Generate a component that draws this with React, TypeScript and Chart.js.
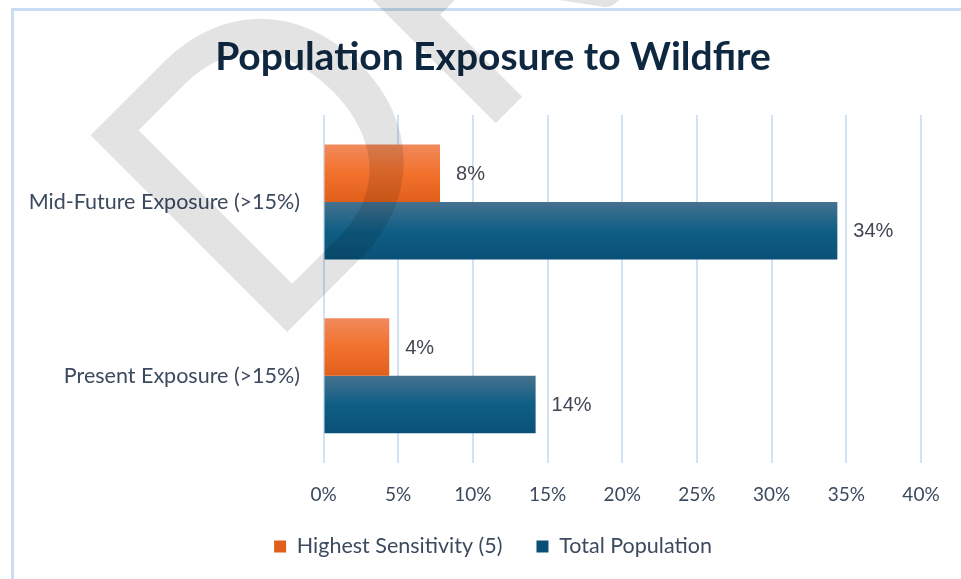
import React, { useEffect, useRef } from "react";
import { Chart, registerables } from "chart.js";

Chart.register(...registerables);

const titleText = "Population Exposure to Wildfire";
const watermarkText = "DRAFT";
const categories = ["Mid-Future Exposure (>15%)", "Present Exposure (>15%)"];
const seriesNames = ["Highest Sensitivity (5)", "Total Population"];
const highestSensitivity = [7.8, 4.4];
const totalPopulation = [34.4, 14.2];
const xTickValues = [0, 5, 10, 15, 20, 25, 30, 35, 40];

const CAT_PCT = 0.662;
const TEXT_COLOR = "#3b4a5e";
const ORANGE_STOPS = ["#f08a5c", "#f2712c", "#e05f1b"];
const BLUE_STOPS = ["#46728f", "#0f5e85", "#0a5076"];

function barGradient(stops: string[], solid: string, which: number) {
  return (ctx: any) => {
    if (ctx.type !== "data") return solid;
    const chart = ctx.chart;
    const area = chart.chartArea;
    const y = chart.scales && chart.scales.y;
    if (!area || !y) return solid;
    const center = y.getPixelForValue(ctx.dataIndex);
    const cat = (area.bottom - area.top) / categories.length;
    const h = (cat * CAT_PCT) / 2;
    const top = which === 0 ? center - h : center;
    const g = chart.ctx.createLinearGradient(0, top, 0, top + h);
    g.addColorStop(0, stops[0]);
    g.addColorStop(0.5, stops[1]);
    g.addColorStop(1, stops[2]);
    return g;
  };
}

const dataLabelPlugin = {
  id: "dataLabels",
  afterDatasetsDraw(chart: any) {
    const ctx = chart.ctx;
    ctx.save();
    ctx.font = '20px "Liberation Sans", Arial, sans-serif';
    ctx.fillStyle = "#404653";
    ctx.textBaseline = "middle";
    ctx.textAlign = "left";
    chart.data.datasets.forEach((ds: any, di: number) => {
      const meta = chart.getDatasetMeta(di);
      meta.data.forEach((el: any, i: number) => {
        const v = ds.data[i];
        ctx.fillText(Math.round(v) + "%", el.x + 16, el.y + 1);
      });
    });
    ctx.restore();
  },
};

const watermarkPlugin = {
  id: "watermark",
  afterDraw(chart: any) {
    const ctx = chart.ctx;
    ctx.save();
    ctx.translate(262, 357);
    ctx.rotate(-Math.PI / 4);
    ctx.font = '388px Lato, sans-serif';
    ctx.fillStyle = "rgba(0,0,0,0.11)";
    ctx.textAlign = "left";
    ctx.textBaseline = "alphabetic";
    ctx.fillText(watermarkText, 0, 0);
    ctx.restore();
  },
};

export default function App() {
  const ref = useRef<HTMLCanvasElement>(null);

  useEffect(() => {
    if (!ref.current) return;
    const chart = new Chart(ref.current, {
      type: "bar",
      data: {
        labels: categories,
        datasets: [
          {
            label: seriesNames[0],
            data: highestSensitivity,
            backgroundColor: barGradient(ORANGE_STOPS, "#f0712e", 0),
            categoryPercentage: CAT_PCT,
            barPercentage: 1,
          },
          {
            label: seriesNames[1],
            data: totalPopulation,
            backgroundColor: barGradient(BLUE_STOPS, "#155d82", 1),
            categoryPercentage: CAT_PCT,
            barPercentage: 1,
          },
        ],
      },
      options: {
        indexAxis: "y",
        responsive: false,
        animation: false,
        layout: { padding: { left: 25, right: 0, top: 0, bottom: 11.75 } },
        plugins: {
          title: {
            display: true,
            text: titleText,
            color: "#0e2841",
            font: { family: "Lato", size: 39, weight: "bold", lineHeight: 1.2 },
            padding: { top: 33.6, bottom: 34.6 },
          },
          legend: {
            position: "bottom",
            labels: {
              boxWidth: 12,
              boxHeight: 12,
              padding: 34,
              color: TEXT_COLOR,
              font: { family: "Lato", size: 21.5 },
            },
          },
          tooltip: { enabled: false },
        },
        scales: {
          x: {
            min: 0,
            max: 40,
            afterBuildTicks: (s: any) => {
              s.ticks = xTickValues.map((v) => ({ value: v }));
            },
            ticks: {
              callback: (v: any) => v + "%",
              padding: 21,
              color: TEXT_COLOR,
              font: { family: "Lato", size: 19 },
              maxRotation: 0,
            },
            grid: { color: "#d0e2f4", lineWidth: 2, drawTicks: false },
            border: { display: false },
            afterFit: (s: any) => {
              s.height = 39;
              s.paddingRight = 40;
              s.paddingLeft = 0;
            },
          },
          y: {
            ticks: {
              color: TEXT_COLOR,
              font: { family: "Lato", size: 21.5 },
              padding: 23.5,
            },
            grid: { display: false, drawTicks: false },
            border: { display: false },
            afterFit: (s: any) => {
              s.width = 298.5;
            },
          },
        },
      },
      plugins: [dataLabelPlugin, watermarkPlugin],
    });
    return () => chart.destroy();
  }, []);

  return (
    <div
      style={{
        position: "fixed",
        left: 0,
        top: 0,
        width: 961,
        height: 579,
        overflow: "hidden",
        background: "#ffffff",
      }}
    >
      <div
        style={{
          position: "absolute",
          left: 11,
          top: 8,
          width: 1200,
          height: 800,
          borderTop: "3px solid #c9dcf2",
          borderLeft: "3px solid #c9dcf2",
        }}
      />
      <canvas
        ref={ref}
        width={961}
        height={579}
        style={{ position: "absolute", left: 0, top: 0, width: 961, height: 579 }}
      />
    </div>
  );
}
